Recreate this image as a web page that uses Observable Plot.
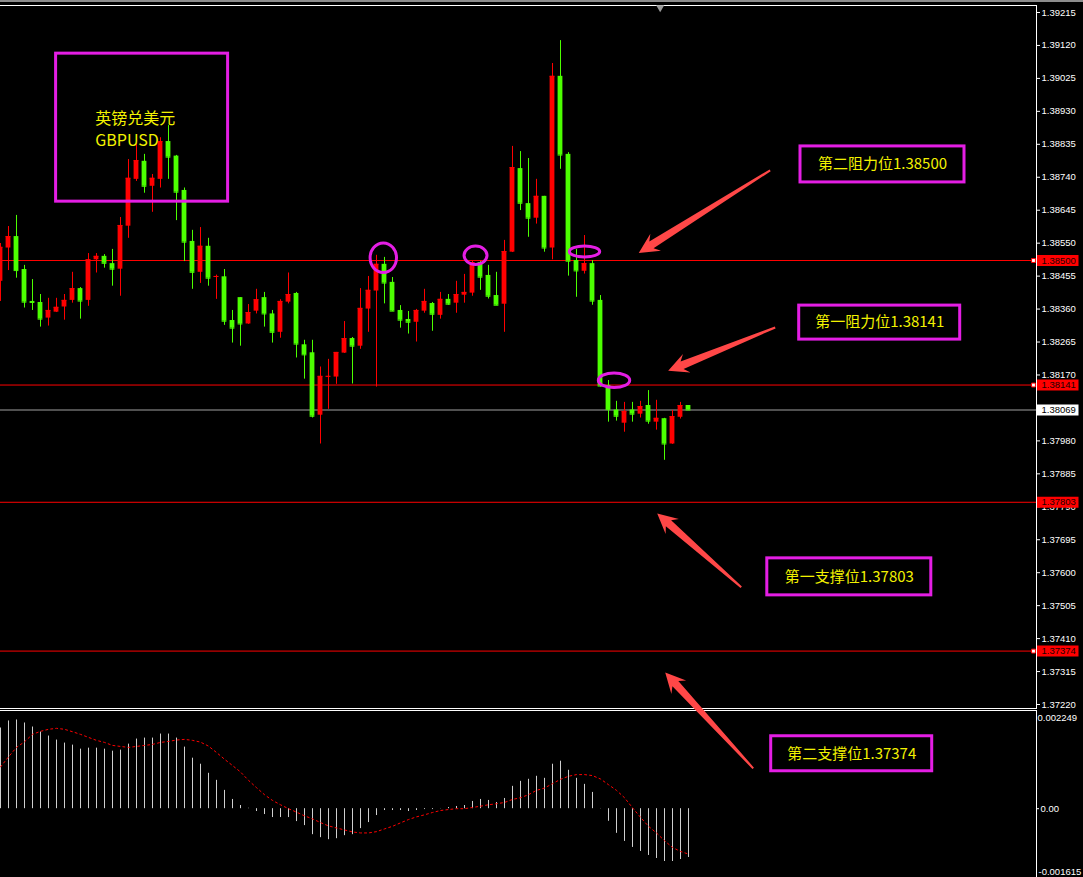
<!DOCTYPE html>
<html>
<head>
<meta charset="utf-8">
<script src="https://cdn.jsdelivr.net/npm/d3@7"></script>
<script src="https://cdn.jsdelivr.net/npm/@observablehq/plot@0.6"></script>
<style>
  html, body { margin: 0; padding: 0; background: #000; }
  #chart { position: relative; width: 1083px; height: 877px; background: #000; overflow: hidden; }
  #chart svg { position: absolute; left: 0; top: 0; }
  #topbar { position: absolute; left: 0; top: 0; width: 1083px; height: 2px; background: #8c8c8c; }
</style>
</head>
<body>
<div id="chart"><div id="topbar"></div></div>
<script>
// GBPUSD candles, one per bar index (oldest first)
const open = [1.38440, 1.38536, 1.38569, 1.38474, 1.38382, 1.38379, 1.38334, 1.38351, 1.38366, 1.38385,
  1.38419, 1.38385, 1.38502, 1.38512, 1.38491, 1.38475, 1.38599, 1.38734, 1.38786, 1.38714,
  1.38734, 1.38843, 1.38801, 1.38702, 1.38555, 1.38466, 1.38541, 1.38452, 1.38453, 1.38327,
  1.38393, 1.38317, 1.38354, 1.38393, 1.38346, 1.38293, 1.38380, 1.38405, 1.38257, 1.38234,
  1.38054, 1.38165, 1.38164, 1.38233, 1.38275, 1.38253, 1.38360, 1.38412, 1.38489, 1.38437,
  1.38356, 1.38330, 1.38322, 1.38354, 1.38376, 1.38342, 1.38388, 1.38377, 1.38400, 1.38406,
  1.38494, 1.38457, 1.38399, 1.38374, 1.38524, 1.38765, 1.38664, 1.38622, 1.38685, 1.38536,
  1.39031, 1.38806, 1.38500, 1.38469, 1.38491, 1.38385, 1.38140, 1.38069, 1.38031, 1.38069,
  1.38057, 1.38082, 1.38034, 1.38044, 1.37971, 1.38048, 1.38082];
const high = [1.38549, 1.38598, 1.38630, 1.38486, 1.38445, 1.38402, 1.38391, 1.38391, 1.38402, 1.38466,
  1.38422, 1.38520, 1.38520, 1.38517, 1.38532, 1.38624, 1.38791, 1.38837, 1.38806, 1.38748,
  1.38854, 1.38889, 1.38803, 1.38709, 1.38587, 1.38595, 1.38564, 1.38458, 1.38474, 1.38356,
  1.38393, 1.38373, 1.38417, 1.38408, 1.38356, 1.38387, 1.38464, 1.38408, 1.38270, 1.38270,
  1.38193, 1.38215, 1.38235, 1.38324, 1.38278, 1.38419, 1.38454, 1.38515, 1.38509, 1.38451,
  1.38370, 1.38353, 1.38359, 1.38417, 1.38379, 1.38408, 1.38402, 1.38440, 1.38460, 1.38500,
  1.38497, 1.38486, 1.38466, 1.38558, 1.38829, 1.38814, 1.38794, 1.38734, 1.38685, 1.39068,
  1.39134, 1.38811, 1.38532, 1.38572, 1.38500, 1.38399, 1.38154, 1.38094, 1.38091, 1.38091,
  1.38094, 1.38125, 1.38097, 1.38045, 1.38068, 1.38091, 1.38082];
const low = [1.38382, 1.38471, 1.38449, 1.38363, 1.38356, 1.38308, 1.38311, 1.38350, 1.38328, 1.38377,
  1.38331, 1.38368, 1.38464, 1.38478, 1.38426, 1.38397, 1.38564, 1.38728, 1.38694, 1.38639,
  1.38709, 1.38734, 1.38615, 1.38497, 1.38417, 1.38434, 1.38426, 1.38388, 1.38313, 1.38262,
  1.38253, 1.38316, 1.38346, 1.38308, 1.38262, 1.38276, 1.38375, 1.38219, 1.38158, 1.38046,
  1.37971, 1.38071, 1.38143, 1.38232, 1.38144, 1.38244, 1.38293, 1.38135, 1.38375, 1.38353,
  1.38305, 1.38288, 1.38265, 1.38348, 1.38296, 1.38331, 1.38371, 1.38348, 1.38377, 1.38397,
  1.38414, 1.38389, 1.38370, 1.38293, 1.38523, 1.38644, 1.38567, 1.38605, 1.38524, 1.38502,
  1.38763, 1.38455, 1.38394, 1.38461, 1.38371, 1.38135, 1.38034, 1.38037, 1.38005, 1.38034,
  1.38046, 1.38028, 1.38011, 1.37924, 1.37970, 1.38043, 1.38069];
const close = [1.38538, 1.38569, 1.38471, 1.38380, 1.38379, 1.38331, 1.38356, 1.38365, 1.38385, 1.38419,
  1.38383, 1.38502, 1.38512, 1.38492, 1.38475, 1.38601, 1.38737, 1.38788, 1.38714, 1.38737,
  1.38843, 1.38798, 1.38697, 1.38553, 1.38466, 1.38541, 1.38449, 1.38454, 1.38325, 1.38305,
  1.38317, 1.38350, 1.38387, 1.38346, 1.38293, 1.38382, 1.38402, 1.38259, 1.38228, 1.38051,
  1.38166, 1.38166, 1.38235, 1.38275, 1.38253, 1.38362, 1.38414, 1.38489, 1.38435, 1.38354,
  1.38328, 1.38322, 1.38356, 1.38382, 1.38345, 1.38388, 1.38374, 1.38402, 1.38408, 1.38494,
  1.38452, 1.38397, 1.38371, 1.38526, 1.38768, 1.38665, 1.38622, 1.38685, 1.38536, 1.39031,
  1.38804, 1.38498, 1.38470, 1.38491, 1.38383, 1.38138, 1.38070, 1.38051, 1.38065, 1.38057,
  1.38079, 1.38037, 1.38045, 1.37971, 1.38050, 1.38082, 1.38069];

// MACD histogram and its signal line, same bar index
const macdHist = [0.001867, 0.002030, 0.002053, 0.001983, 0.001890, 0.001774, 0.001681, 0.001588, 0.001518, 0.001471,
  0.001378, 0.001401, 0.001401, 0.001378, 0.001331, 0.001355, 0.001494, 0.001611, 0.001634, 0.001634,
  0.001727, 0.001727, 0.001634, 0.001425, 0.001169, 0.001029, 0.000819, 0.000656, 0.000424, 0.000214,
  0.000074, 0.000010, -0.000065, -0.000135, -0.000205, -0.000205, -0.000205, -0.000298, -0.000391, -0.000601,
  -0.000670, -0.000717, -0.000694, -0.000624, -0.000601, -0.000461, -0.000321, -0.000158, -0.000042, -0.000042,
  -0.000042, -0.000065, -0.000042, -0.000020, -0.000020, 0.000005, 0.000028, 0.000051, 0.000074, 0.000168,
  0.000214, 0.000191, 0.000144, 0.000237, 0.000517, 0.000633, 0.000680, 0.000750, 0.000703, 0.001029,
  0.001099, 0.000889, 0.000703, 0.000563, 0.000377, 0.000005, -0.000291, -0.000570, -0.000757, -0.000896,
  -0.000989, -0.001082, -0.001152, -0.001222, -0.001222, -0.001176, -0.001129];
const macdSignal = [0.000966, 0.001199, 0.001418, 0.001548, 0.001720, 0.001790, 0.001837, 0.001860, 0.001837, 0.001781,
  0.001720, 0.001650, 0.001581, 0.001534, 0.001464, 0.001441, 0.001418, 0.001441, 0.001464, 0.001487,
  0.001534, 0.001557, 0.001588, 0.001604, 0.001581, 0.001541, 0.001448, 0.001301, 0.001145, 0.000999,
  0.000850, 0.000656, 0.000487, 0.000324, 0.000191, 0.000091, 0.000000, -0.000080, -0.000165, -0.000235,
  -0.000321, -0.000398, -0.000445, -0.000491, -0.000538, -0.000561, -0.000561, -0.000531, -0.000468, -0.000407,
  -0.000328, -0.000251, -0.000189, -0.000142, -0.000088, -0.000042, -0.000019, 0.000000, 0.000000, 0.000028,
  0.000058, 0.000091, 0.000114, 0.000144, 0.000214, 0.000254, 0.000324, 0.000424, 0.000477, 0.000580,
  0.000680, 0.000750, 0.000789, 0.000789, 0.000766, 0.000687, 0.000556, 0.000424, 0.000254, 0.000021,
  -0.000198, -0.000407, -0.000561, -0.000740, -0.000896, -0.000989, -0.001050];

// price axis tick labels
const priceTicks = [1.39215, 1.39120, 1.39025, 1.38930, 1.38835, 1.38740, 1.38645, 1.38550, 1.38455, 1.38360,
  1.38265, 1.38170, 1.38075, 1.37980, 1.37885, 1.37790, 1.37695, 1.37600, 1.37505, 1.37410, 1.37315, 1.37220];
const macdTicks = [0.002249, 0, -0.001615];

// resistance / support levels and the last traded price
const levelNames = ["第二阻力位", "第一阻力位", "第一支撑位", "第二支撑位"];
const levelPrices = [1.38500, 1.38141, 1.37803, 1.37374];
const levelHasMarker = [true, true, false, true];
const lastPrice = 1.38069;

// annotation placement (bar index, price) and arrow ends
const levelBoxCenters = [[110.25, 1.38777], [109.9, 1.38321], [106.1, 1.37588], [106.4, 1.37078]];
const levelBoxSizes = [[164, 36], [161, 34], [164, 37], [161, 35]];
const arrowTails = [[96.21, 1.38760], [96.84, 1.38307], [92.59, 1.37558], [94.09, 1.37036]];
const arrowTips = [[79.78, 1.38522], [83.46, 1.38182], [82.09, 1.37771], [83.09, 1.37312]];
const highlightCenters = [[47.85, 1.38508], [59.38, 1.38515], [73.0, 1.38526], [76.69, 1.38155]];
const highlightRadii = [[13.2, 14.7], [11.5, 9.2], [15.2, 5.5], [15.7, 7.3]];
const titleLines = "英镑兑美元\nGBPUSD";
const titleAnchor = [11.84, 1.38881];
const titleBox = {center: [17.7, 1.38883], size: [172, 148]};
const shiftMarkerIndex = 82.46;

// ---- drawing ----
const RED = "#ff0000", GREEN = "#4cff00", MAGENTA = "#e41ee4", YELLOW = "#f2f200", ARROW = "#ff4747";
const W = 1083, H = 877, MR = 47;
const xOpts = {domain: [0, 129.4625], range: [0, 1035.7]};
const yPriceOpts = {domain: [1.37220, 1.39215], range: [704, 12]};
const yMacdOpts = {domain: [-0.001615, 0.002249], range: [878, 711]};
const CJK = "'Noto Sans CJK SC', 'Noto Sans', sans-serif";
const AXISFONT = "'Liberation Sans', Arial, sans-serif";

const sx = Plot.scale({x: xOpts});
const sy = Plot.scale({y: yPriceOpts});

const bars = open.map((o, i) => ({i, open: o, high: high[i], low: low[i], close: close[i], up: close[i] > o}));
const macd = macdHist.map((h, i) => ({i, hist: h, signal: macdSignal[i]}));
const levels = levelPrices.map((p, j) => ({price: p, name: levelNames[j], marker: levelHasMarker[j]}));
const tags = [...levels.map(l => ({price: l.price, bg: RED, fg: "#1a0000", marker: l.marker})),
  {price: lastPrice, bg: "#ffffff", fg: "#000000", marker: false}];

// rectangle in data units around a pixel-sized box centred on a data point
function boxAround([cx, cy], [w, h]) {
  const px = sx.apply(cx), py = sy.apply(cy);
  return {x1: sx.invert(px - w / 2), x2: sx.invert(px + w / 2), y1: sy.invert(py - h / 2), y2: sy.invert(py + h / 2)};
}
const levelBoxes = levels.map((l, j) => ({...boxAround(levelBoxCenters[j], levelBoxSizes[j]),
  cx: levelBoxCenters[j][0], cy: levelBoxCenters[j][1], label: l.name + l.price.toFixed(5)}));
const titleRect = boxAround(titleBox.center, titleBox.size);

// tapered arrow outline: thin tail widening towards a barbed head
function arrowOutline(tail, tip, id) {
  const tx = sx.apply(tail[0]), ty = sy.apply(tail[1]);
  const px = sx.apply(tip[0]), py = sy.apply(tip[1]);
  const len = Math.hypot(tx - px, ty - py);
  const ux = (tx - px) / len, uy = (ty - py) / len, nx = -uy, ny = ux;
  const HEAD = 20, HALF = 10, NOTCH = 5, NECK = 4, TAIL = 1;
  const pt = (a, s) => ({id, x: sx.invert(px + ux * a + nx * s), y: sy.invert(py + uy * a + ny * s)});
  return [pt(0, 0), pt(HEAD, HALF), pt(HEAD - NOTCH, NECK), pt(len, TAIL), pt(len, -TAIL),
    pt(HEAD - NOTCH, -NECK), pt(HEAD, -HALF), pt(0, 0)];
}
const arrowPts = arrowTails.flatMap((t, j) => arrowOutline(t, arrowTips[j], j));

// ellipse outline used as a dot symbol
function ellipseSymbol(rx, ry) {
  const k = 0.5522847;
  return {draw(c) {
    c.moveTo(rx, 0);
    c.bezierCurveTo(rx, ry * k, rx * k, ry, 0, ry);
    c.bezierCurveTo(-rx * k, ry, -rx, ry * k, -rx, 0);
    c.bezierCurveTo(-rx, -ry * k, -rx * k, -ry, 0, -ry);
    c.bezierCurveTo(rx * k, -ry, rx, -ry * k, rx, 0);
    c.closePath();
  }};
}

const candleColor = d => d.up ? RED : GREEN;
const tagX1 = sx.invert(1037), tagX2 = sx.invert(1078.5);
const tickX1 = sx.invert(1036), tickX2 = sx.invert(1039);

const macdPlot = Plot.plot({
  width: W, height: H,
  marginTop: 710, marginBottom: -1, marginLeft: -1, marginRight: MR,
  style: {background: "transparent", color: "#fff", fontFamily: AXISFONT, fontSize: "9.5px"},
  x: {...xOpts, axis: null},
  y: {...yMacdOpts, axis: null},
  marks: [
    Plot.frame({stroke: "#fff"}),
    Plot.ruleX(macd, {x: "i", y1: 0, y2: "hist", stroke: "#cfcfcf"}),
    Plot.line(macd, {x: "i", y: "signal", stroke: RED, strokeWidth: 1, strokeDasharray: "2,3"}),
    Plot.ruleY([macdTicks[1]], {y: d => d, x1: tickX1, x2: tickX2, stroke: "#fff"}),
    Plot.text([macdTicks[0]], {y: d => d, text: d => d.toFixed(6), frameAnchor: "right", textAnchor: "start", dx: 1, dy: 6, fill: "#fff"}),
    Plot.text([macdTicks[1]], {y: d => d, text: () => "0.00", frameAnchor: "right", textAnchor: "start", dx: 4, fill: "#fff"}),
    Plot.text([macdTicks[2]], {y: d => d, text: d => d.toFixed(6), frameAnchor: "right", textAnchor: "start", dx: 2, dy: -7, fill: "#fff"})
  ]
});

const pricePlot = Plot.plot({
  width: W, height: H,
  marginTop: 5, marginBottom: H - 708, marginLeft: -1, marginRight: MR,
  style: {background: "transparent", color: "#fff", fontFamily: AXISFONT, fontSize: "9.5px"},
  x: {...xOpts, axis: null},
  y: {...yPriceOpts, axis: null},
  marks: [
    Plot.frame({stroke: "#fff"}),
    Plot.ruleY(levels, {y: "price", stroke: RED}),
    Plot.ruleY([lastPrice], {stroke: "#a0a0a0"}),
    Plot.ruleX(bars, {x: "i", y1: "low", y2: "high", stroke: candleColor}),
    Plot.rect(bars, {x1: d => d.i - 0.3, x2: d => d.i + 0.3, y1: "open", y2: "close", fill: candleColor}),
    Plot.ruleY(bars, {x1: d => d.i - 0.3, x2: d => d.i + 0.3, y: "close", stroke: candleColor}),
    Plot.dot([shiftMarkerIndex], {x: d => d, frameAnchor: "top", dy: 2, symbol: "triangle", rotate: 180, r: 3, fill: "#9a9a9a"}),
    Plot.axisY(priceTicks, {anchor: "right", tickSize: 3, tickPadding: 2, tickFormat: d => d.toFixed(5),
      stroke: "#fff", fill: "#fff", fontFamily: AXISFONT, fontSize: 9.5}),
    Plot.ruleY(tags, {y: "price", x1: tagX1, x2: tagX2, stroke: "bg", strokeWidth: 11}),
    Plot.text(tags, {y: "price", text: d => d.price.toFixed(5), frameAnchor: "right", textAnchor: "start",
      dx: 5, fill: "fg", fontFamily: AXISFONT, fontSize: 9.5}),
    Plot.dot(tags.filter(d => d.marker), {y: "price", frameAnchor: "right", dx: -3, symbol: "square", r: 2.2,
      fill: "#fff", stroke: RED, strokeWidth: 1}),
    // highlighted touches of the 1.38500 / 1.38141 levels
    ...highlightCenters.map(([x, y], j) => Plot.dot([{x, y}], {x: "x", y: "y",
      symbol: ellipseSymbol(highlightRadii[j][0], highlightRadii[j][1]), fill: "none", stroke: MAGENTA, strokeWidth: 3})),
    // title box
    Plot.rect([titleRect], {x1: "x1", x2: "x2", y1: "y1", y2: "y2", fill: "none", stroke: MAGENTA, strokeWidth: 3}),
    Plot.text([titleLines], {x: titleAnchor[0], y: titleAnchor[1], text: d => d, textAnchor: "start",
      lineAnchor: "middle", lineHeight: 1.375, fill: YELLOW, fontFamily: CJK, fontSize: 16}),
    // level labels and arrows
    Plot.line(arrowPts, {x: "x", y: "y", z: "id", fill: ARROW, stroke: "none"}),
    Plot.rect(levelBoxes, {x1: "x1", x2: "x2", y1: "y1", y2: "y2", fill: "#000", stroke: MAGENTA, strokeWidth: 3}),
    Plot.text(levelBoxes, {x: "cx", y: "cy", text: "label", fill: YELLOW, fontFamily: CJK, fontSize: 15})
  ]
});

const host = document.getElementById("chart");
host.appendChild(macdPlot);
host.appendChild(pricePlot);
</script>
</body>
</html>
